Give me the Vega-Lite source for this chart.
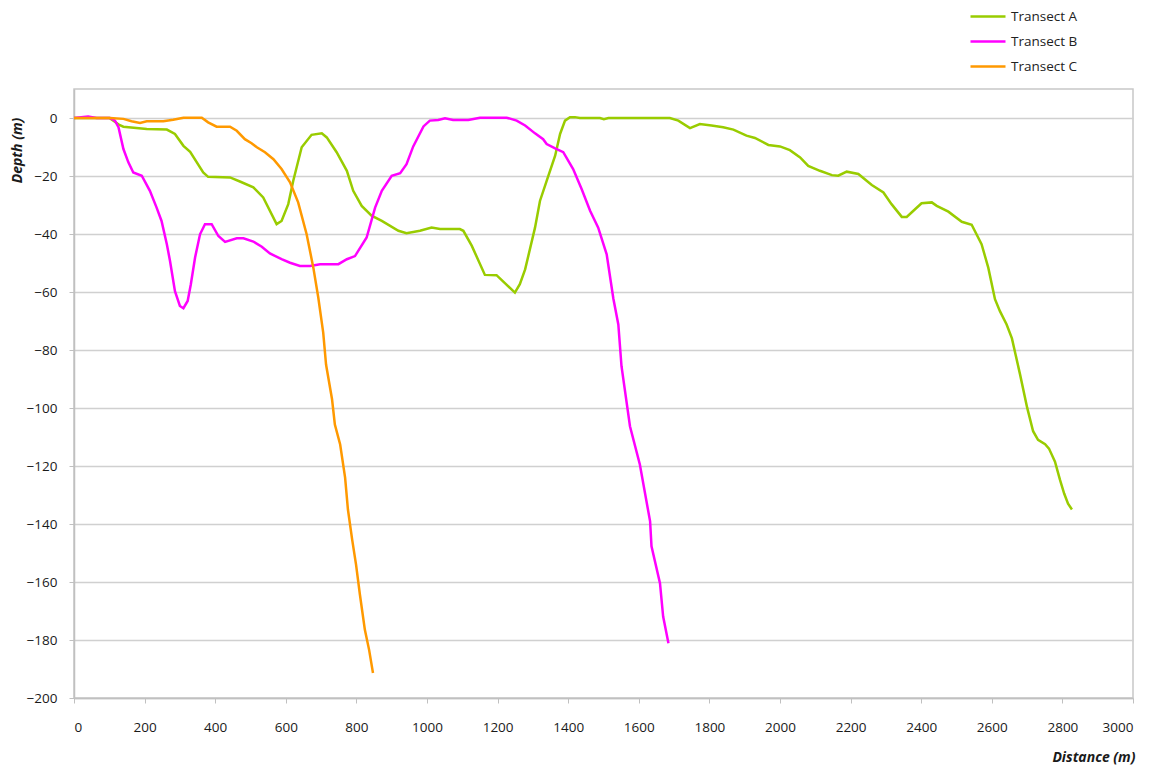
{
  "$schema": "https://vega.github.io/schema/vega-lite/v6.json",
  "width": 1059,
  "height": 609,
  "autosize": {"type": "none"},
  "padding": {"left": 74, "top": 89, "right": 26, "bottom": 71},
  "background": "white",
  "data": {"values": [
    {"t":"Transect A","d":0,"z":0},{"t":"Transect A","d":100,"z":0},{"t":"Transect A","d":130,"z":-2.5},{"t":"Transect A","d":140,"z":-3},{"t":"Transect A","d":206,"z":-3.8},{"t":"Transect A","d":263,"z":-4},{"t":"Transect A","d":286,"z":-5.5},{"t":"Transect A","d":310,"z":-9.6},{"t":"Transect A","d":329,"z":-11.7},{"t":"Transect A","d":366,"z":-18.8},{"t":"Transect A","d":380,"z":-20.3},{"t":"Transect A","d":442,"z":-20.5},{"t":"Transect A","d":470,"z":-21.9},{"t":"Transect A","d":508,"z":-23.9},{"t":"Transect A","d":536,"z":-27.4},{"t":"Transect A","d":574,"z":-36.6},{"t":"Transect A","d":588,"z":-35.5},{"t":"Transect A","d":607,"z":-29.7},{"t":"Transect A","d":621,"z":-21.7},{"t":"Transect A","d":645,"z":-10.1},{"t":"Transect A","d":673,"z":-5.8},{"t":"Transect A","d":702,"z":-5.3},{"t":"Transect A","d":716,"z":-6.7},{"t":"Transect A","d":744,"z":-11.8},{"t":"Transect A","d":773,"z":-18.2},{"t":"Transect A","d":791,"z":-25.1},{"t":"Transect A","d":815,"z":-30.3},{"t":"Transect A","d":843,"z":-33.7},{"t":"Transect A","d":872,"z":-35.5},{"t":"Transect A","d":919,"z":-38.9},{"t":"Transect A","d":942,"z":-39.7},{"t":"Transect A","d":980,"z":-38.9},{"t":"Transect A","d":1013,"z":-37.8},{"t":"Transect A","d":1037,"z":-38.3},{"t":"Transect A","d":1093,"z":-38.3},{"t":"Transect A","d":1103,"z":-38.9},{"t":"Transect A","d":1127,"z":-44.1},{"t":"Transect A","d":1164,"z":-54.1},{"t":"Transect A","d":1197,"z":-54.2},{"t":"Transect A","d":1249,"z":-60.2},{"t":"Transect A","d":1263,"z":-57.3},{"t":"Transect A","d":1278,"z":-52.2},{"t":"Transect A","d":1306,"z":-37.8},{"t":"Transect A","d":1320,"z":-28.6},{"t":"Transect A","d":1339,"z":-21.7},{"t":"Transect A","d":1363,"z":-13},{"t":"Transect A","d":1377,"z":-5.5},{"t":"Transect A","d":1391,"z":-0.9},{"t":"Transect A","d":1405,"z":0.3},{"t":"Transect A","d":1419,"z":0.3},{"t":"Transect A","d":1433,"z":0},{"t":"Transect A","d":1490,"z":0},{"t":"Transect A","d":1501,"z":-0.4},{"t":"Transect A","d":1514,"z":0},{"t":"Transect A","d":1688,"z":0},{"t":"Transect A","d":1712,"z":-0.9},{"t":"Transect A","d":1745,"z":-3.5},{"t":"Transect A","d":1773,"z":-2.1},{"t":"Transect A","d":1806,"z":-2.6},{"t":"Transect A","d":1839,"z":-3.2},{"t":"Transect A","d":1868,"z":-4},{"t":"Transect A","d":1905,"z":-6.1},{"t":"Transect A","d":1929,"z":-6.9},{"t":"Transect A","d":1967,"z":-9.3},{"t":"Transect A","d":2000,"z":-9.8},{"t":"Transect A","d":2028,"z":-11.1},{"t":"Transect A","d":2057,"z":-13.6},{"t":"Transect A","d":2080,"z":-16.5},{"t":"Transect A","d":2113,"z":-18.2},{"t":"Transect A","d":2147,"z":-19.7},{"t":"Transect A","d":2165,"z":-19.9},{"t":"Transect A","d":2189,"z":-18.5},{"t":"Transect A","d":2222,"z":-19.3},{"t":"Transect A","d":2260,"z":-23.1},{"t":"Transect A","d":2293,"z":-25.7},{"t":"Transect A","d":2316,"z":-29.7},{"t":"Transect A","d":2345,"z":-34.1},{"t":"Transect A","d":2359,"z":-34.1},{"t":"Transect A","d":2378,"z":-32},{"t":"Transect A","d":2401,"z":-29.4},{"t":"Transect A","d":2430,"z":-29.1},{"t":"Transect A","d":2444,"z":-30.3},{"t":"Transect A","d":2477,"z":-32.3},{"t":"Transect A","d":2515,"z":-35.8},{"t":"Transect A","d":2543,"z":-36.8},{"t":"Transect A","d":2571,"z":-43.5},{"t":"Transect A","d":2590,"z":-51.6},{"t":"Transect A","d":2609,"z":-62.5},{"t":"Transect A","d":2623,"z":-66.6},{"t":"Transect A","d":2642,"z":-71.2},{"t":"Transect A","d":2657,"z":-76},{"t":"Transect A","d":2680,"z":-88.4},{"t":"Transect A","d":2700,"z":-99.8},{"t":"Transect A","d":2717,"z":-108},{"t":"Transect A","d":2731,"z":-111},{"t":"Transect A","d":2751,"z":-112.5},{"t":"Transect A","d":2762,"z":-114},{"t":"Transect A","d":2779,"z":-118.5},{"t":"Transect A","d":2793,"z":-124.7},{"t":"Transect A","d":2805,"z":-129.5},{"t":"Transect A","d":2816,"z":-133},{"t":"Transect A","d":2827,"z":-135},
    {"t":"Transect B","d":0,"z":0},{"t":"Transect B","d":40,"z":0.5},{"t":"Transect B","d":64,"z":0},{"t":"Transect B","d":102,"z":0},{"t":"Transect B","d":116,"z":-0.9},{"t":"Transect B","d":126,"z":-3.2},{"t":"Transect B","d":140,"z":-10.7},{"t":"Transect B","d":154,"z":-15.3},{"t":"Transect B","d":168,"z":-18.8},{"t":"Transect B","d":192,"z":-19.9},{"t":"Transect B","d":215,"z":-25.1},{"t":"Transect B","d":234,"z":-30.9},{"t":"Transect B","d":248,"z":-35.5},{"t":"Transect B","d":263,"z":-43.5},{"t":"Transect B","d":272,"z":-49.3},{"t":"Transect B","d":286,"z":-59.7},{"t":"Transect B","d":300,"z":-64.8},{"t":"Transect B","d":310,"z":-65.6},{"t":"Transect B","d":322,"z":-63.1},{"t":"Transect B","d":331,"z":-57.3},{"t":"Transect B","d":343,"z":-48.1},{"t":"Transect B","d":357,"z":-40.1},{"t":"Transect B","d":371,"z":-36.6},{"t":"Transect B","d":390,"z":-36.6},{"t":"Transect B","d":409,"z":-40.7},{"t":"Transect B","d":428,"z":-42.7},{"t":"Transect B","d":461,"z":-41.5},{"t":"Transect B","d":480,"z":-41.5},{"t":"Transect B","d":508,"z":-42.6},{"t":"Transect B","d":532,"z":-44.4},{"t":"Transect B","d":555,"z":-46.7},{"t":"Transect B","d":588,"z":-48.7},{"t":"Transect B","d":612,"z":-49.9},{"t":"Transect B","d":640,"z":-51},{"t":"Transect B","d":669,"z":-51},{"t":"Transect B","d":697,"z":-50.4},{"t":"Transect B","d":749,"z":-50.4},{"t":"Transect B","d":773,"z":-48.7},{"t":"Transect B","d":796,"z":-47.6},{"t":"Transect B","d":829,"z":-41.2},{"t":"Transect B","d":853,"z":-30.9},{"t":"Transect B","d":872,"z":-25.1},{"t":"Transect B","d":900,"z":-19.9},{"t":"Transect B","d":924,"z":-19},{"t":"Transect B","d":942,"z":-15.9},{"t":"Transect B","d":961,"z":-9.8},{"t":"Transect B","d":990,"z":-2.9},{"t":"Transect B","d":1008,"z":-0.9},{"t":"Transect B","d":1032,"z":-0.7},{"t":"Transect B","d":1051,"z":-0.1},{"t":"Transect B","d":1074,"z":-0.7},{"t":"Transect B","d":1117,"z":-0.7},{"t":"Transect B","d":1150,"z":0.1},{"t":"Transect B","d":1226,"z":0.1},{"t":"Transect B","d":1254,"z":-0.9},{"t":"Transect B","d":1278,"z":-2.6},{"t":"Transect B","d":1306,"z":-5.3},{"t":"Transect B","d":1329,"z":-7.3},{"t":"Transect B","d":1339,"z":-9},{"t":"Transect B","d":1363,"z":-10.5},{"t":"Transect B","d":1386,"z":-11.8},{"t":"Transect B","d":1414,"z":-17.6},{"t":"Transect B","d":1438,"z":-24.5},{"t":"Transect B","d":1462,"z":-32},{"t":"Transect B","d":1485,"z":-37.8},{"t":"Transect B","d":1509,"z":-47},{"t":"Transect B","d":1528,"z":-62.3},{"t":"Transect B","d":1542,"z":-71.2},{"t":"Transect B","d":1551,"z":-85.6},{"t":"Transect B","d":1575,"z":-106.3},{"t":"Transect B","d":1603,"z":-119.5},{"t":"Transect B","d":1632,"z":-139.1},{"t":"Transect B","d":1636,"z":-147.7},{"t":"Transect B","d":1660,"z":-160.4},{"t":"Transect B","d":1669,"z":-171.9},{"t":"Transect B","d":1684,"z":-181.1},
    {"t":"Transect C","d":0,"z":0},{"t":"Transect C","d":102,"z":0},{"t":"Transect C","d":140,"z":-0.3},{"t":"Transect C","d":163,"z":-1.1},{"t":"Transect C","d":187,"z":-1.7},{"t":"Transect C","d":206,"z":-1.1},{"t":"Transect C","d":253,"z":-1.1},{"t":"Transect C","d":281,"z":-0.6},{"t":"Transect C","d":310,"z":0.1},{"t":"Transect C","d":362,"z":0.1},{"t":"Transect C","d":380,"z":-1.5},{"t":"Transect C","d":404,"z":-3},{"t":"Transect C","d":442,"z":-3},{"t":"Transect C","d":461,"z":-4.4},{"t":"Transect C","d":484,"z":-7.3},{"t":"Transect C","d":503,"z":-8.7},{"t":"Transect C","d":518,"z":-10.1},{"t":"Transect C","d":541,"z":-11.8},{"t":"Transect C","d":565,"z":-14.2},{"t":"Transect C","d":588,"z":-17.6},{"t":"Transect C","d":612,"z":-22.2},{"t":"Transect C","d":635,"z":-29.1},{"t":"Transect C","d":659,"z":-40.1},{"t":"Transect C","d":678,"z":-51.6},{"t":"Transect C","d":692,"z":-61.9},{"t":"Transect C","d":706,"z":-74},{"t":"Transect C","d":714,"z":-85},{"t":"Transect C","d":731,"z":-97},{"t":"Transect C","d":739,"z":-105.7},{"t":"Transect C","d":754,"z":-112.6},{"t":"Transect C","d":768,"z":-124},{"t":"Transect C","d":776,"z":-135},{"t":"Transect C","d":788,"z":-145.4},{"t":"Transect C","d":799,"z":-154},{"t":"Transect C","d":810,"z":-164.4},{"t":"Transect C","d":824,"z":-176.5},{"t":"Transect C","d":836,"z":-183.4},{"t":"Transect C","d":847,"z":-191.4}
  ]},
  "mark": {"type": "line", "strokeWidth": 2.5, "interpolate": "linear"},
  "encoding": {
    "x": {
      "field": "d", "type": "quantitative",
      "scale": {"domain": [0, 3000], "nice": false},
      "axis": {
        "title": "Distance (m)", "format": "d",
        "values": [0,200,400,600,800,1000,1200,1400,1600,1800,2000,2200,2400,2600,2800,3000],
        "grid": false, "tickSize": 5, "labelPadding": 17,
        "titleX": 1061, "titleY": 59, "titleAlign": "right", "titleBaseline": "middle", "titleAnchor": null
      }
    },
    "y": {
      "field": "z", "type": "quantitative",
      "scale": {"domain": [-200, 10], "nice": false, "zero": false},
      "axis": {
        "title": "Depth (m)", "format": "d",
        "values": [-200,-180,-160,-140,-120,-100,-80,-60,-40,-20,0],
        "grid": true, "tickSize": 5, "labelPadding": 12,
        "titleX": -57, "titleY": 61, "titleAngle": -90, "titleAlign": "center", "titleBaseline": "middle", "titleAnchor": null
      }
    },
    "color": {
      "field": "t", "type": "nominal",
      "scale": {"domain": ["Transect A", "Transect B", "Transect C"], "range": ["#99cc00", "#ff00ff", "#ff9900"]},
      "legend": {
        "title": null, "orient": "none", "legendX": 895, "legendY": -80,
        "symbolType": "stroke", "symbolSize": 1225, "symbolStrokeWidth": 2.5,
        "clipHeight": 15,
        "labelFontSize": 13.5, "labelColor": "#222", "labelOffset": 4, "rowPadding": 10
      }
    }
  },
  "config": {
    "font": "Open Sans",
    "view": {"stroke": "#c8c8c8", "strokeWidth": 1.5},
    "axis": {
      "gridColor": "#d0d0d0", "gridWidth": 1.3,
      "domainColor": "#c0c0c0", "domainWidth": 1.5,
      "tickColor": "#c0c0c0",
      "labelColor": "#1a1a1a", "labelFontSize": 13.5,
      "titleColor": "#1a1a1a", "titleFontSize": 14, "titleFontStyle": "italic", "titleFontWeight": "bold"
    }
  }
}
